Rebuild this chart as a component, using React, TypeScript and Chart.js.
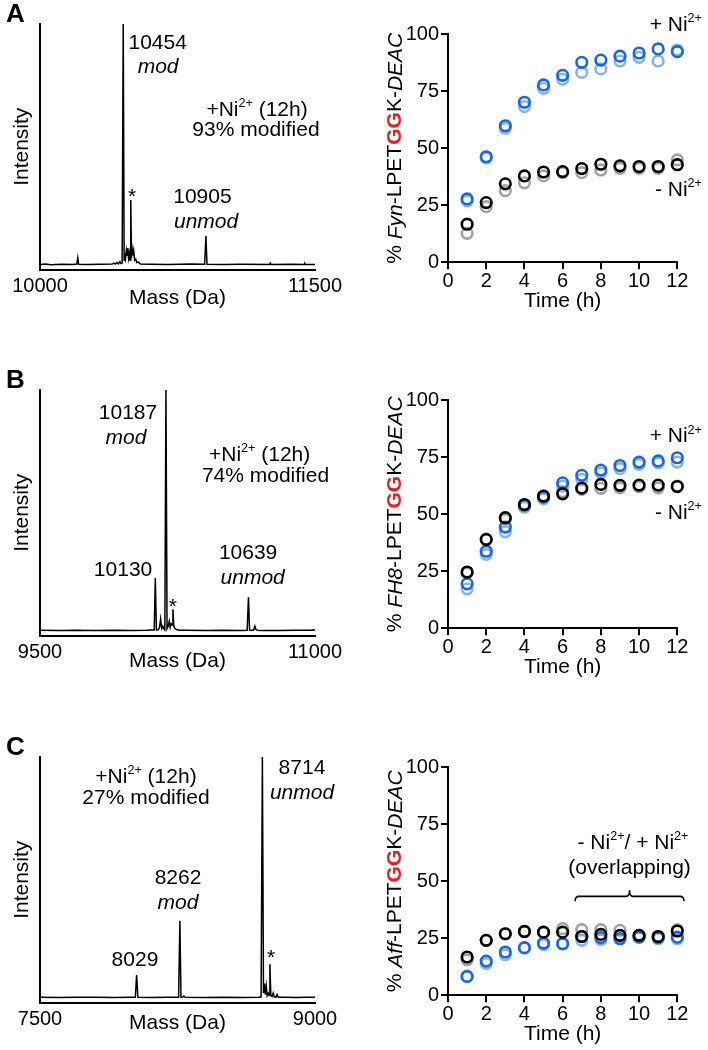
import React, { useEffect, useRef } from 'react';
import { Chart, registerables } from 'chart.js';

Chart.register(...registerables);

const FONT = "'Liberation Sans', Arial, Helvetica, sans-serif";
Chart.defaults.font.family = FONT;
Chart.defaults.color = '#000';

// ---------- time-course data ----------
const hours = [1, 2, 3, 4, 5, 6, 7, 8, 9, 10, 11, 12];
const timeTicks = [0, 2, 4, 6, 8, 10, 12];
const percentTicks = [0, 25, 50, 75, 100];

const fynPlusRep1 = [27.8, 46.3, 59.9, 70.2, 77.8, 82.0, 87.7, 88.7, 90.4, 91.8, 93.6, 92.4];
const fynPlusRep2 = [27.0, 45.8, 58.8, 68.3, 76.3, 80.3, 83.3, 84.8, 88.3, 89.9, 88.3, 93.1];
const fynMinusRep1 = [16.7, 26.2, 34.4, 37.9, 39.6, 39.8, 41.1, 43.0, 42.3, 42.0, 42.0, 42.8];
const fynMinusRep2 = [12.7, 24.4, 31.4, 34.9, 37.9, 39.3, 39.3, 40.5, 41.2, 41.2, 41.2, 44.9];

const fh8PlusRep1 = [19.5, 33.8, 44.4, 54.0, 57.5, 63.8, 67.1, 69.4, 71.4, 72.9, 73.4, 74.8];
const fh8PlusRep2 = [17.3, 32.4, 42.3, 53.1, 56.8, 62.4, 65.3, 68.2, 70.0, 71.9, 72.6, 72.9];
const fh8MinusRep1 = [24.7, 38.9, 48.5, 54.3, 58.0, 59.0, 61.5, 63.1, 62.7, 62.8, 62.8, 62.2];
const fh8MinusRep2 = [24.3, 39.2, 47.7, 53.6, 58.0, 59.9, 60.9, 61.4, 61.6, 62.1, 61.6, 62.4];

const affPlusRep1 = [8.3, 15.0, 19.0, 20.9, 22.9, 22.6, 25.8, 25.3, 24.8, 25.5, 25.3, 25.5];
const affPlusRep2 = [8.3, 13.9, 17.8, 20.7, 22.2, 22.6, 24.1, 24.4, 25.5, 25.5, 24.8, 24.8];
const affMinusRep1 = [16.8, 24.1, 27.0, 28.0, 27.7, 27.7, 25.8, 26.7, 26.3, 26.3, 25.8, 28.2];
const affMinusRep2 = [15.6, 24.1, 27.0, 28.0, 27.7, 29.2, 28.8, 28.8, 28.5, 26.3, 25.8, 28.8];

// ---------- mass spectra ----------
const specAMass = [10000, 10030, 10060, 10120, 10180, 10201, 10206, 10211, 10260, 10330, 10395, 10405, 10412, 10420, 10428, 10436, 10442, 10448, 10454, 10459, 10463, 10467, 10471, 10475, 10479, 10483, 10487, 10491, 10495, 10499, 10503, 10507, 10511, 10516, 10522, 10528, 10536, 10548, 10600, 10700, 10820, 10898, 10905, 10911, 11000, 11100, 11252, 11256, 11260, 11380, 11440, 11444, 11448, 11500];
const specAInt = [0.002, 0.004, 0.001, 0.003, 0.002, 0.004, 0.03, 0.003, 0.002, 0.003, 0.004, 0.008, 0.004, 0.01, 0.005, 0.014, 0.006, 0.008, 1.0, 0.02, 0.05, 0.03, 0.06, 0.04, 0.07, 0.03, 0.05, 0.02, 0.27, 0.03, 0.065, 0.04, 0.06, 0.02, 0.025, 0.01, 0.012, 0.004, 0.003, 0.002, 0.004, 0.003, 0.12, 0.003, 0.002, 0.003, 0.002, 0.008, 0.002, 0.003, 0.002, 0.006, 0.002, 0.002];

const specBMass = [9500, 9600, 9700, 9800, 9900, 10000, 10080, 10110, 10123, 10129, 10135, 10145, 10152, 10158, 10164, 10170, 10176, 10181, 10187, 10193, 10199, 10205, 10210, 10215, 10220, 10225, 10230, 10236, 10245, 10260, 10300, 10400, 10500, 10600, 10630, 10637, 10643, 10665, 10672, 10678, 10685, 10700, 10800, 10900, 10980, 10990, 11000];
const specBInt = [0.003, 0.002, 0.003, 0.002, 0.003, 0.002, 0.003, 0.004, 0.004, 0.22, 0.004, 0.006, 0.015, 0.05, 0.01, 0.02, 0.008, 0.004, 1.0, 0.01, 0.02, 0.04, 0.015, 0.03, 0.025, 0.09, 0.02, 0.01, 0.006, 0.003, 0.003, 0.002, 0.003, 0.002, 0.003, 0.14, 0.003, 0.003, 0.02, 0.006, 0.003, 0.002, 0.002, 0.003, 0.003, 0.005, 0.003];

const specCMass = [7500, 7600, 7700, 7800, 7900, 8000, 8020, 8027, 8034, 8100, 8200, 8256, 8263, 8269, 8278, 8285, 8292, 8400, 8500, 8600, 8690, 8706, 8713, 8719, 8724, 8729, 8734, 8739, 8745, 8750, 8754, 8759, 8766, 8772, 8778, 8787, 8793, 8800, 8830, 8900, 8950, 9000];
const specCInt = [0.003, 0.002, 0.003, 0.003, 0.002, 0.003, 0.003, 0.095, 0.003, 0.002, 0.003, 0.003, 0.32, 0.003, 0.004, 0.008, 0.003, 0.002, 0.003, 0.002, 0.003, 0.004, 1.0, 0.02, 0.06, 0.015, 0.05, 0.01, 0.02, 0.01, 0.14, 0.01, 0.006, 0.02, 0.005, 0.003, 0.015, 0.003, 0.003, 0.002, 0.003, 0.003];

// ---------- text helpers ----------
type Seg = { t: string; i?: boolean; b?: boolean; sup?: boolean; c?: string };
type Ann = { x: number; y: number; segs: Seg[]; align?: 'left' | 'center' | 'right' };

const NI: Seg[] = [{ t: 'Ni' }, { t: '2+', sup: true }];

function segFont(s: Seg, size: number) {
  const sz = s.sup ? size * 0.6 : size;
  return `${s.i ? 'italic ' : ''}${s.b ? 'bold ' : ''}${sz}px ${FONT}`;
}
function drawRich(ctx: CanvasRenderingContext2D, segs: Seg[], x: number, y: number, size: number, align: string = 'center') {
  let w = 0;
  for (const s of segs) {
    ctx.font = segFont(s, size);
    w += ctx.measureText(s.t).width;
  }
  let cx = align === 'left' ? x : align === 'right' ? x - w : x - w / 2;
  ctx.textAlign = 'left';
  ctx.textBaseline = 'middle';
  for (const s of segs) {
    ctx.font = segFont(s, size);
    ctx.fillStyle = s.c || '#000';
    ctx.fillText(s.t, cx, s.sup ? y - size * 0.3 : y);
    cx += ctx.measureText(s.t).width;
  }
}

// ---------- annotations ----------
const annA: Ann[] = [
  { x: 10642, y: 0.921, segs: [{ t: '10454' }] },
  { x: 10644, y: 0.822, segs: [{ t: 'mod', i: true }] },
  { x: 11184, y: 0.643, segs: [{ t: '+' }, ...NI, { t: ' (12h)' }] },
  { x: 11178, y: 0.56, segs: [{ t: '93% modified' }] },
  { x: 10502, y: 0.282, segs: [{ t: '*' }] },
  { x: 10886, y: 0.282, segs: [{ t: '10905' }] },
  { x: 10906, y: 0.178, segs: [{ t: 'unmod', i: true }] },
];
const annB: Ann[] = [
  { x: 9980, y: 0.905, segs: [{ t: '10187' }] },
  { x: 9969, y: 0.801, segs: [{ t: 'mod', i: true }] },
  { x: 10698, y: 0.73, segs: [{ t: '+' }, ...NI, { t: ' (12h)' }] },
  { x: 10730, y: 0.643, segs: [{ t: '74% modified' }] },
  { x: 9953, y: 0.253, segs: [{ t: '10130' }] },
  { x: 10225, y: 0.1, segs: [{ t: '*' }] },
  { x: 10635, y: 0.324, segs: [{ t: '10639' }] },
  { x: 10660, y: 0.22, segs: [{ t: 'unmod', i: true }] },
];
const annC: Ann[] = [
  { x: 8078, y: 0.917, segs: [{ t: '+' }, ...NI, { t: ' (12h)' }] },
  { x: 8078, y: 0.83, segs: [{ t: '27% modified' }] },
  { x: 8929, y: 0.954, segs: [{ t: '8714' }] },
  { x: 8929, y: 0.851, segs: [{ t: 'unmod', i: true }] },
  { x: 8253, y: 0.498, segs: [{ t: '8262' }] },
  { x: 8253, y: 0.394, segs: [{ t: 'mod', i: true }] },
  { x: 8018, y: 0.158, segs: [{ t: '8029' }] },
  { x: 8760, y: 0.166, segs: [{ t: '*' }] },
];

const kinAnnA: Ann[] = [
  { x: 13.29, y: 104.1, segs: [{ t: '+ ' }, ...NI], align: 'right' },
  { x: 13.29, y: 31.7, segs: [{ t: '- ' }, ...NI], align: 'right' },
];
const kinAnnB: Ann[] = [
  { x: 13.29, y: 84.2, segs: [{ t: '+ ' }, ...NI], align: 'right' },
  { x: 13.29, y: 50.7, segs: [{ t: '- ' }, ...NI], align: 'right' },
];
const kinAnnC: Ann[] = [
  { x: 9.68, y: 66.7, segs: [{ t: '- ' }, ...NI, { t: '/ + ' }, ...NI] },
  { x: 9.5, y: 55.7, segs: [{ t: '(overlapping)' }] },
];

const W = 354;
const H = 320;
const SPEC = { left: 40, right: 315, top: 24, bottom: 269.5 };
const KIN = { left: 94, right: 323.3, top: 34.3, bottom: 262.3 };

const spectra = [
  { letter: 'A', top: 0, mass: specAMass, inten: specAInt, min: 10000, max: 11500, titlePad: 9.4, anns: annA },
  { letter: 'B', top: 366, mass: specBMass, inten: specBInt, min: 9500, max: 11000, titlePad: 11.9, anns: annB },
  { letter: 'C', top: 733, mass: specCMass, inten: specCInt, min: 7500, max: 9000, titlePad: 17.4, anns: annC },
];

const kinetics = [
  { top: 0, name: 'Fyn', plus1: fynPlusRep1, plus2: fynPlusRep2, minus1: fynMinusRep1, minus2: fynMinusRep2, anns: kinAnnA, brace: null as null | { x1: number; x2: number; xm: number; y: number } },
  { top: 366, name: 'FH8', plus1: fh8PlusRep1, plus2: fh8PlusRep2, minus1: fh8MinusRep1, minus2: fh8MinusRep2, anns: kinAnnB, brace: null },
  { top: 733, name: 'Aff', plus1: affPlusRep1, plus2: affPlusRep2, minus1: affMinusRep1, minus2: affMinusRep2, anns: kinAnnC, brace: { x1: 6.65, x2: 12.35, xm: 9.5, y: 43.4 } },
];

const BLUE = '#1565F2';
const LIGHT_BLUE = '#86B4EA';
const BLACK = '#000000';
const GREY = '#A2A2A2';

function makeSpectrum(canvas: HTMLCanvasElement, p: typeof spectra[number]) {
  const annPlugin = {
    id: 'specAnn' + p.letter,
    afterDraw(chart: any) {
      const ctx = chart.ctx as CanvasRenderingContext2D;
      const xs = chart.scales.x;
      const ys = chart.scales.y;
      ctx.save();
      for (const a of p.anns) {
        drawRich(ctx, a.segs, xs.getPixelForValue(a.x), ys.getPixelForValue(a.y), 21, a.align || 'center');
      }
      drawRich(ctx, [{ t: p.letter, b: true }], 6, 15, 26, 'left');
      ctx.restore();
    },
  };
  return new Chart(canvas, {
    type: 'line',
    data: {
      datasets: [
        {
          data: p.mass.map((m, i) => ({ x: m, y: p.inten[i] })),
          borderColor: '#000',
          borderWidth: 1.5,
          pointRadius: 0,
          tension: 0,
          fill: false,
        },
      ],
    },
    options: {
      animation: false,
      responsive: false,
      events: [],
      layout: { padding: { left: 0, right: W - SPEC.right, top: SPEC.top, bottom: 0 } },
      plugins: { legend: { display: false }, tooltip: { enabled: false } },
      scales: {
        x: {
          type: 'linear',
          min: p.min,
          max: p.max,
          afterFit: (s: any) => { s.height = H - SPEC.bottom; },
          afterBuildTicks: (s: any) => { s.ticks = [{ value: p.min }, { value: p.max }]; },
          ticks: { font: { size: 20 }, color: '#000', padding: 4.5, maxRotation: 0, autoSkip: false, callback: (v: any) => String(v) },
          grid: { display: false, drawTicks: false },
          border: { display: true, color: '#000', width: 2 },
          title: { display: true, text: 'Mass (Da)', font: { size: 21 }, color: '#000', padding: { top: 0, bottom: p.titlePad } },
        },
        y: {
          type: 'linear',
          min: -0.0187,
          max: 1,
          afterFit: (s: any) => { s.width = SPEC.left; },
          ticks: { display: false },
          grid: { display: false, drawTicks: false },
          border: { display: true, color: '#000', width: 2 },
          title: { display: true, text: 'Intensity', font: { size: 21 }, color: '#000', padding: { top: 10, bottom: 0 } },
        },
      },
    } as any,
    plugins: [annPlugin],
  });
}

function makeKinetic(canvas: HTMLCanvasElement, k: typeof kinetics[number], idx: number) {
  const toPts = (arr: number[]) => hours.map((h, i) => ({ x: h, y: arr[i] }));
  const ds = (arr: number[], color: string, order: number) => ({
    data: toPts(arr),
    borderColor: color,
    backgroundColor: 'rgba(0,0,0,0)',
    pointBorderColor: color,
    pointBackgroundColor: 'rgba(0,0,0,0)',
    pointRadius: 5.3,
    pointBorderWidth: 2.6,
    pointStyle: 'circle',
    showLine: false,
    clip: false,
    order,
  });
  const titleSegs: Seg[] = [
    { t: '% ' },
    { t: k.name, i: true },
    { t: '-LPET' },
    { t: 'GG', b: true, c: '#EE1C24' },
    { t: 'K-' },
    { t: 'DEAC', i: true },
  ];
  const annPlugin = {
    id: 'kinAnn' + idx,
    afterDraw(chart: any) {
      const ctx = chart.ctx as CanvasRenderingContext2D;
      const xs = chart.scales.x;
      const ys = chart.scales.y;
      const area = chart.chartArea;
      ctx.save();
      ctx.translate(41.7, (area.top + area.bottom) / 2);
      ctx.rotate(-Math.PI / 2);
      drawRich(ctx, titleSegs, 0, 0, 21, 'center');
      ctx.restore();
      ctx.save();
      for (const a of k.anns) {
        drawRich(ctx, a.segs, xs.getPixelForValue(a.x), ys.getPixelForValue(a.y), 21, a.align || 'center');
      }
      if (k.brace) {
        const x1 = xs.getPixelForValue(k.brace.x1);
        const x2 = xs.getPixelForValue(k.brace.x2);
        const xm = xs.getPixelForValue(k.brace.xm);
        const y = ys.getPixelForValue(k.brace.y);
        ctx.beginPath();
        ctx.moveTo(x1, y + 5);
        ctx.quadraticCurveTo(x1, y, x1 + 4, y);
        ctx.lineTo(xm - 3, y);
        ctx.quadraticCurveTo(xm, y, xm, y - 6);
        ctx.quadraticCurveTo(xm, y, xm + 3, y);
        ctx.lineTo(x2 - 4, y);
        ctx.quadraticCurveTo(x2, y, x2, y + 5);
        ctx.strokeStyle = '#000';
        ctx.lineWidth = 1.6;
        ctx.stroke();
      }
      ctx.restore();
    },
  };
  return new Chart(canvas, {
    type: 'scatter',
    data: {
      datasets: [
        ds(k.plus2, LIGHT_BLUE, 3),
        ds(k.minus2, GREY, 2),
        ds(k.plus1, BLUE, 1),
        ds(k.minus1, BLACK, 0),
      ],
    },
    options: {
      animation: false,
      responsive: false,
      events: [],
      layout: { padding: { left: 0, right: W - KIN.right, top: KIN.top, bottom: 0 } },
      plugins: { legend: { display: false }, tooltip: { enabled: false } },
      scales: {
        x: {
          type: 'linear',
          min: 0,
          max: 12,
          afterFit: (s: any) => { s.height = H - KIN.bottom; },
          afterBuildTicks: (s: any) => { s.ticks = timeTicks.map((v) => ({ value: v })); },
          ticks: { font: { size: 20 }, color: '#000', padding: 0, maxRotation: 0, autoSkip: false, callback: (v: any) => String(v) },
          grid: { display: true, drawOnChartArea: false, drawTicks: true, tickLength: 7, color: '#000', lineWidth: 2 },
          border: { display: true, color: '#000', width: 2 },
          title: { display: true, text: 'Time (h)', font: { size: 21 }, color: '#000', padding: { top: 0, bottom: 6.1 } },
        },
        y: {
          type: 'linear',
          min: 0,
          max: 100,
          afterFit: (s: any) => { s.width = KIN.left; },
          afterBuildTicks: (s: any) => { s.ticks = percentTicks.map((v) => ({ value: v })); },
          ticks: { font: { size: 20 }, color: '#000', padding: 2, autoSkip: false, callback: (v: any) => String(v) },
          grid: { display: true, drawOnChartArea: false, drawTicks: true, tickLength: 7, color: '#000', lineWidth: 2 },
          border: { display: true, color: '#000', width: 2 },
          title: { display: false },
        },
      },
    } as any,
    plugins: [annPlugin],
  });
}

export default function App() {
  const specRefs = useRef<(HTMLCanvasElement | null)[]>([]);
  const kinRefs = useRef<(HTMLCanvasElement | null)[]>([]);

  useEffect(() => {
    const charts: Chart[] = [];
    spectra.forEach((p, i) => {
      const c = specRefs.current[i];
      if (c) charts.push(makeSpectrum(c, p));
    });
    kinetics.forEach((k, i) => {
      const c = kinRefs.current[i];
      if (c) charts.push(makeKinetic(c, k, i));
    });
    return () => charts.forEach((c) => c.destroy());
  }, []);

  return (
    <div
      style={{
        position: 'absolute',
        left: 0,
        top: 0,
        width: 708,
        height: 1050,
        overflow: 'hidden',
        background: '#fff',
      }}
    >
      {spectra.map((p, i) => (
        <canvas
          key={'s' + i}
          ref={(el) => { specRefs.current[i] = el; }}
          width={W}
          height={H}
          style={{ position: 'absolute', left: 0, top: p.top, width: W, height: H }}
        />
      ))}
      {kinetics.map((k, i) => (
        <canvas
          key={'k' + i}
          ref={(el) => { kinRefs.current[i] = el; }}
          width={W}
          height={H}
          style={{ position: 'absolute', left: W, top: k.top, width: W, height: H }}
        />
      ))}
    </div>
  );
}
